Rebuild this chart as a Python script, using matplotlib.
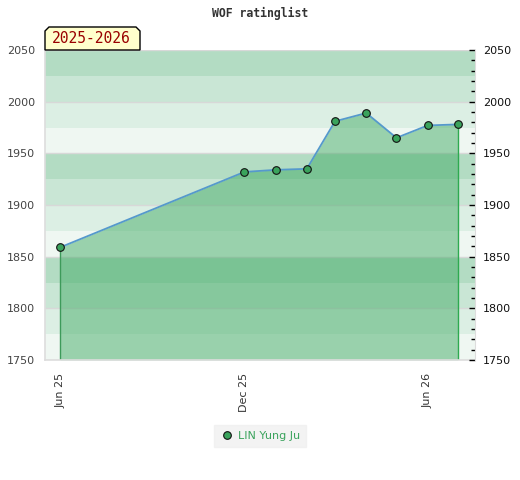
import numpy as np
import pandas as pd
import matplotlib
matplotlib.use("Agg")
import matplotlib.pyplot as plt
from matplotlib.patches import Polygon
from matplotlib.ticker import MultipleLocator

# rating history (first of month)
dates = pd.to_datetime(["2025-06-01", "2025-12-01", "2026-01-01", "2026-02-01",
                        "2026-03-01", "2026-04-01", "2026-05-01", "2026-06-01",
                        "2026-07-01"])
ratings = [1859, 1932, 1934, 1935, 1981, 1989, 1965, 1977, 1978]
player = "LIN Yung Ju"
season = "2025-2026"
tick_dates = pd.to_datetime(["2025-06-01", "2025-12-01", "2026-06-01"])
tick_labels = ["Jun 25", "Dec 25", "Jun 26"]

ymin, ymax = 1750, 2050
band_colors = ["#eff7f2", "#dcefe4", "#c9e6d5", "#b3dcc3"]

fig = plt.figure(figsize=(5.2, 4.8), dpi=100)
ax = fig.add_axes([45/520, 0.25, 430/520, 310/480])

# background bands, 25 points each
for i, lo in enumerate(np.arange(ymin, ymax, 25)):
    ax.axhspan(lo, lo + 25, color=band_colors[i % 4], lw=0, zorder=0)
ax.yaxis.grid(True, color="#d8d8d8", lw=1, zorder=0.5)
ax.set_axisbelow(True)

ax.fill_between(dates, ratings, ymin, color="#3da861", alpha=0.48, lw=0, zorder=1)
ax.vlines(dates[0], ymin, ratings[0], color="#3d9a5a", lw=1, zorder=2)
ax.vlines(dates[-1], ymin, ratings[-1], color="#2eaa50", lw=1, zorder=2)
ax.plot(dates, ratings, color="#5599cc", lw=1.3, zorder=3)
ax.plot(dates, ratings, ls="none", marker="o", ms=5.5, mfc="#3aa35c", mec="#111111",
        mew=0.8, zorder=4, label=player)

ax.set_ylim(ymin, ymax)
ax.set_xlim(pd.Timestamp("2025-05-17"), pd.Timestamp("2026-07-18"))
ax.set_xticks(tick_dates)
ax.set_xticklabels(tick_labels, rotation=90)
ax.yaxis.set_major_locator(MultipleLocator(50))
ax.tick_params(axis="x", length=0, pad=9, labelsize=8, labelcolor="#333333")
ax.tick_params(axis="y", length=0, pad=7, labelsize=8, labelcolor="#444444")

for s in ["top", "right"]:
    ax.spines[s].set_visible(False)
for s in ["left", "bottom"]:
    ax.spines[s].set_color("#dddddd")
    ax.spines[s].set_linewidth(1.2)

ax2 = ax.twinx()
ax2.set_ylim(ymin, ymax)
ax2.yaxis.set_major_locator(MultipleLocator(50))
ax2.yaxis.set_minor_locator(MultipleLocator(10))
ax2.tick_params(axis="y", which="major", direction="in", length=4, width=1,
                pad=5.5, labelsize=8, labelcolor="#111111")
ax2.tick_params(axis="y", which="minor", direction="in", length=3, width=1)
for s in ["top", "left", "bottom"]:
    ax2.spines[s].set_visible(False)
ax2.spines["right"].set_color("#dddddd")

fig.text(0.5, 1 - 13/480, "WOF ratinglist", ha="center", va="center",
         family="DejaVu Sans Mono", fontweight="bold", fontsize=8.3, color="#333333")

# season badge with chamfered top corners
bx, by = 95/430, 23/310
cx, cy = 4/430, 4/310
badge = Polygon([(0, 1), (bx, 1), (bx, 1 + by - cy), (bx - cx, 1 + by),
                 (cx, 1 + by), (0, 1 + by - cy)], closed=True,
                transform=ax.transAxes, clip_on=False, fc="#ffffcc", ec="black",
                lw=1, zorder=10)
ax.add_patch(badge)
ax.text(bx / 2 - 1/430, 1 + by / 2, season, transform=ax.transAxes, ha="center",
        va="center", family="DejaVu Sans Mono", fontsize=10.5, color="#990000",
        zorder=11)

leg = fig.legend(loc="center", bbox_to_anchor=(0.5, 1 - 436/480), frameon=True,
                 fontsize=8, labelcolor="#3aa35c", handletextpad=0.4,
                 handlelength=1.2, borderpad=0.5, fancybox=False)
leg.get_frame().set_facecolor("#f0f0f0")
leg.get_frame().set_edgecolor("#f0f0f0")

fig.savefig("out.png", dpi=100)
